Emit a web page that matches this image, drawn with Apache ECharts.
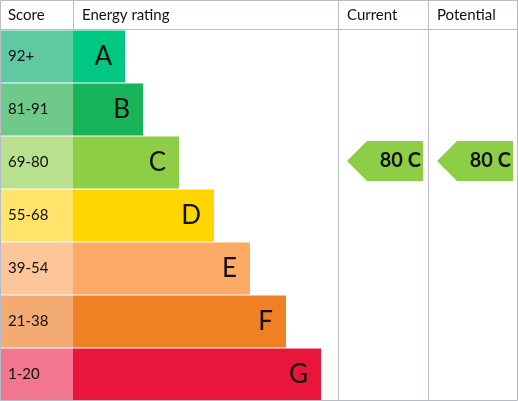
<!DOCTYPE html>
<html><head><meta charset="utf-8">
<script src="https://cdn.jsdelivr.net/npm/echarts@6/dist/echarts.min.js"></script>
<style>html,body{margin:0;padding:0;background:#fff}#c{width:518px;height:401px}</style>
</head><body><div id="c"></div>
<script>
const bands = ['A','B','C','D','E','F','G'];
const scores = ['92+','81-91','69-80','55-68','39-54','21-38','1-20'];
const barLengths = [52, 70, 106, 141, 177, 213, 248];
const bandColors = ['#00c781','#19b459','#8dce46','#ffd500','#fcaa65','#ef8023','#e9153b'];
const scoreColors = ['#5fc9a2','#6ec98a','#b9e08c','#ffe36a','#fdc69a','#f4ab73','#f27690'];
const currentRating = {score: 80, band: 'C'};
const potentialRating = {score: 80, band: 'C'};
const SCORE_W = 73;
const font = 'Lato, "Noto Sans", sans-serif';

const chart = echarts.init(document.getElementById('c'));
function arrow(xStart, xEnd) {
  return function(params, api) {
    const p = api.coord([0, api.value(0)]);
    const h = api.size([0, 1])[1];
    const top = p[1] - h/2 + 7, bot = p[1] + h/2 - 8, mid = p[1];
    const tip = 18;
    return {type:'group', children:[
      {type:'polygon', shape:{points:[[xStart,mid],[xStart+tip,top],[xEnd,top],[xEnd,bot],[xStart+tip,bot]]}, style:{fill:bandColors[bands.indexOf(params.__band)]||'#8dce46'}},
      {type:'text', style:{text: api.value(1) + ' ' + bands[api.value(0)], x: xEnd-4, y: mid, align:'right', verticalAlign:'middle', font:'bold 20px ' + font, fill:'#111'}}
    ]};
  };
}
function arrowSeries(r, xs, xe) {
  const bi = bands.indexOf(r.band);
  return {type:'custom', coordinateSystem:'cartesian2d', data:[[bi, r.score]],
    encode:{y:0}, renderItem:function(params, api){
      const p = api.coord([0, bi]);
      const h = api.size([0, 1])[1];
      const top = p[1]-h/2+5, bot = p[1]+h/2-8, mid=(top+bot)/2, tip=20;
      return {type:'group', children:[
        {type:'polygon', shape:{points:[[xs,mid],[xs+tip,top],[xe,top],[xe,bot],[xs+tip,bot]]}, style:{fill:bandColors[bi]}},
        {type:'text', style:{text: r.score + ' ' + r.band, x: xe-2, y: mid, align:'right', verticalAlign:'middle', font:'bold 20px ' + font, fill:'#111'}}
      ]};
    }};
}
chart.setOption({
  animation:false,
  grid:{left:0, top:30, width:518, height:371},
  xAxis:{type:'value', min:0, max:518, show:false},
  yAxis:{type:'category', data:bands, inverse:true, show:false},
  series:[
    {type:'bar', stack:'s', barCategoryGap:1, data:scores.map((s,i)=>({value:SCORE_W, itemStyle:{color:scoreColors[i]}, label:{formatter:s}})),
     label:{show:true, position:'insideLeft', offset:[3,0], fontSize:15, fontFamily:font, color:'#111'}},
    {type:'bar', stack:'s', barCategoryGap:1, data:barLengths.map((v,i)=>({value:v, itemStyle:{color:bandColors[i]}})),
     label:{show:true, position:'insideRight', offset:[-8,0], formatter:p=>bands[p.dataIndex], fontSize:26, fontFamily:font, color:'#111'}},
    arrowSeries(currentRating, 347, 423),
    arrowSeries(potentialRating, 437, 513)
  ],
  graphic:[
    {type:'rect', shape:{x:0.5,y:0.5,width:517,height:400}, style:{fill:null, stroke:'#b8bcc8', lineWidth:1}, z:100},
    {type:'line', shape:{x1:0,y1:29.5,x2:518,y2:29.5}, style:{stroke:'#b8bcc8'}, z:100},
    {type:'line', shape:{x1:73.5,y1:0,x2:73.5,y2:30}, style:{stroke:'#b8bcc8'}, z:100},
    {type:'line', shape:{x1:338.5,y1:0,x2:338.5,y2:401}, style:{stroke:'#b8bcc8'}, z:100},
    {type:'line', shape:{x1:428.5,y1:0,x2:428.5,y2:401}, style:{stroke:'#b8bcc8'}, z:100},
    {type:'text', style:{text:'Score', x:8, y:15, verticalAlign:'middle', font:'15px '+font, fill:'#111'}},
    {type:'text', style:{text:'Energy rating', x:82, y:15, verticalAlign:'middle', font:'15px '+font, fill:'#111'}},
    {type:'text', style:{text:'Current', x:347, y:15, verticalAlign:'middle', font:'15px '+font, fill:'#111'}},
    {type:'text', style:{text:'Potential', x:437, y:15, verticalAlign:'middle', font:'15px '+font, fill:'#111'}}
  ]
});
</script></body></html>
